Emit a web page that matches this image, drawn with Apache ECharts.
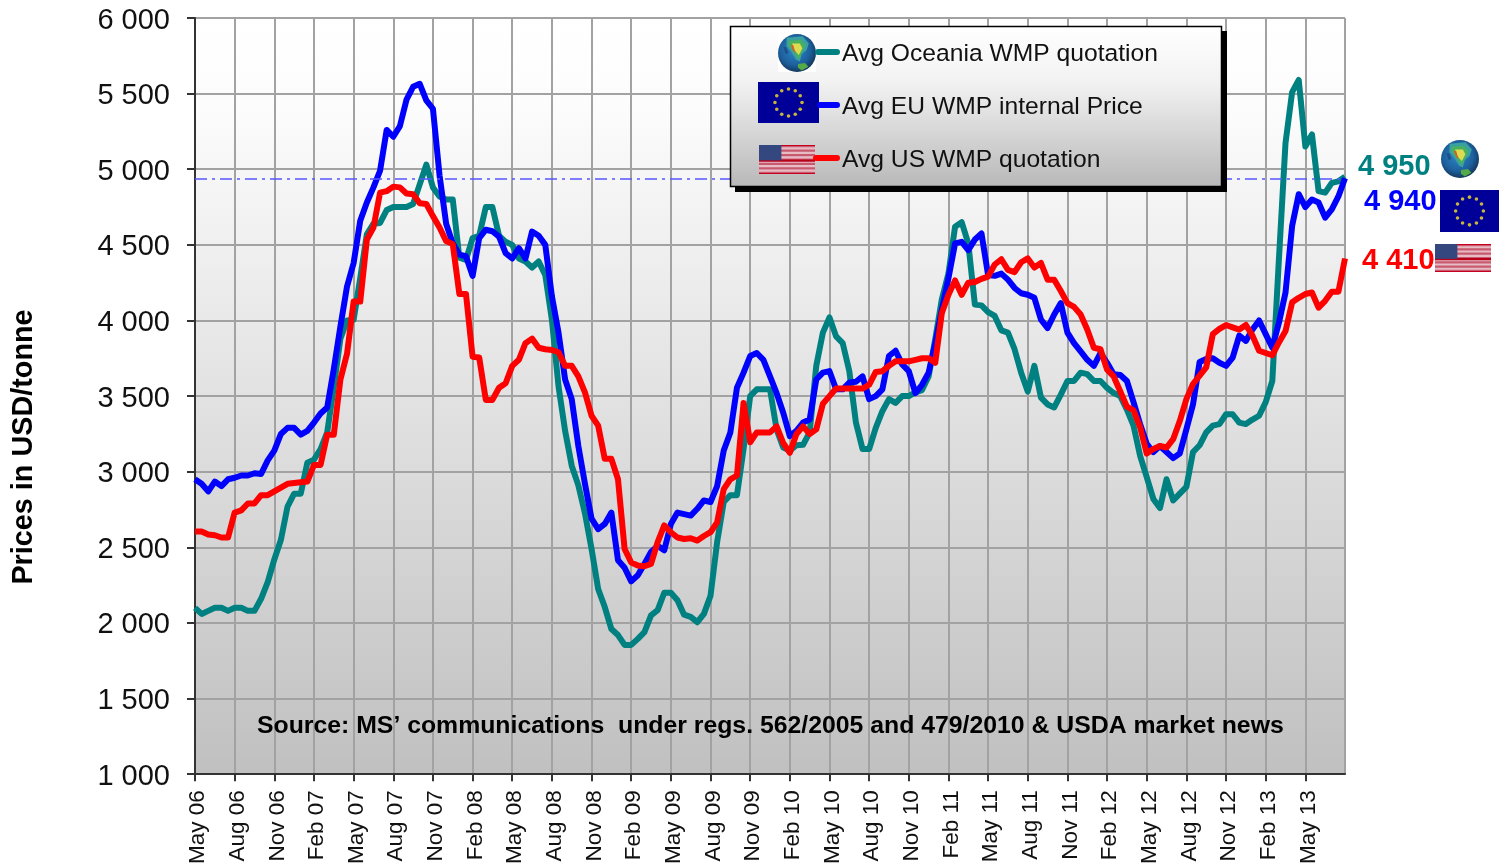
<!DOCTYPE html>
<html><head><meta charset="utf-8">
<style>html,body{margin:0;padding:0;background:#fff}#c{width:1499px;height:867px}</style>
<script src="https://cdn.jsdelivr.net/npm/echarts@6/dist/echarts.min.js"></script>
</head><body><div id="c"></div>
<script>
// half-monthly samples, May 06 to Aug 13
const tickLabels = ['May 06','Aug 06','Nov 06','Feb 07','May 07','Aug 07','Nov 07','Feb 08','May 08','Aug 08','Nov 08','Feb 09','May 09','Aug 09','Nov 09','Feb 10','May 10','Aug 10','Nov 10','Feb 11','May 11','Aug 11','Nov 11','Feb 12','May 12','Aug 12','Nov 12','Feb 13','May 13',''];
const yTicks = [1000,1500,2000,2500,3000,3500,4000,4500,5000,5500,6000];
const oceania = [
2100,2060,2080,2100,2100,2080,2100,2100,2080,2080,
2160,2270,2420,2550,2770,2855,2855,3060,3080,3150,
3260,3560,3880,4000,4005,4280,4570,4640,4645,4730,
4750,4750,4750,4770,4900,5030,4880,4820,4800,4800,
4415,4400,4545,4560,4750,4750,4560,4520,4500,4410,
4390,4350,4390,4300,4005,3565,3270,3040,2910,2725,
2490,2225,2105,1960,1920,1855,1855,1895,1940,2050,
2085,2200,2200,2150,2055,2040,2005,2060,2180,2535,
2800,2845,2845,3150,3500,3545,3545,3545,3280,3160,
3140,3175,3178,3260,3700,3920,4020,3895,3850,3665,
3325,3150,3150,3290,3400,3480,3455,3500,3500,3525,
3540,3630,3875,4140,4310,4620,4650,4510,4105,4100,
4055,4030,3935,3920,3810,3655,3530,3700,3490,3445,
3425,3510,3600,3600,3655,3645,3600,3600,3555,3520,
3500,3410,3305,3105,2965,2820,2760,2950,2810,2855,
2900,3130,3175,3260,3305,3315,3380,3380,3325,3315,
3345,3370,3460,3600,4405,5175,5510,5590,5150,5230,
4855,4845,4910,4920,4950];
const eu = [
2950,2920,2870,2935,2905,2950,2960,2975,2975,2990,
2985,3075,3140,3250,3290,3290,3245,3270,3325,3385,
3425,3680,3960,4225,4380,4660,4780,4880,4990,5260,
5215,5285,5460,5545,5565,5455,5400,4960,4640,4510,
4435,4425,4295,4545,4600,4590,4555,4445,4410,4478,
4410,4588,4560,4500,4160,3920,3610,3480,3170,2920,
2690,2620,2655,2730,2415,2365,2275,2315,2390,2470,
2510,2480,2655,2730,2720,2710,2755,2810,2800,2905,
3140,3260,3555,3655,3765,3785,3740,3630,3520,3390,
3235,3270,3325,3345,3610,3655,3665,3545,3545,3590,
3595,3630,3480,3500,3545,3765,3800,3710,3665,3520,
3575,3655,3850,4070,4280,4510,4520,4465,4535,4575,
4300,4295,4310,4270,4215,4180,4170,4150,4005,3950,
4040,4115,3920,3850,3795,3740,3700,3785,3720,3645,
3640,3600,3460,3315,3185,3130,3170,3130,3090,3120,
3280,3445,3725,3745,3750,3720,3700,3755,3900,3865,
3940,4000,3910,3820,3985,4185,4625,4835,4750,4800,
4780,4680,4735,4820,4940];
const us = [
2605,2605,2585,2580,2565,2565,2730,2745,2790,2790,
2845,2845,2870,2895,2920,2925,2930,2935,3045,3045,
3245,3245,3610,3780,4125,4125,4535,4615,4845,4855,
4885,4880,4840,4835,4775,4770,4690,4615,4525,4505,
4175,4175,3760,3755,3475,3475,3555,3585,3700,3740,
3850,3880,3820,3810,3805,3790,3700,3700,3630,3525,
3370,3305,3085,3085,2950,2490,2400,2380,2375,2390,
2535,2645,2600,2565,2555,2560,2545,2575,2600,2665,
2885,2950,2975,3455,3195,3260,3260,3260,3300,3190,
3125,3250,3300,3250,3280,3450,3500,3550,3550,3550,
3550,3550,3575,3660,3665,3700,3730,3730,3730,3740,
3750,3750,3720,4050,4170,4265,4170,4250,4255,4275,
4290,4370,4405,4335,4320,4385,4410,4350,4380,4270,
4270,4195,4115,4090,4040,3940,3820,3810,3675,3630,
3530,3430,3405,3295,3120,3150,3170,3160,3215,3335,
3480,3580,3635,3690,3910,3945,3970,3955,3940,3970,
3900,3800,3785,3770,3855,3930,4120,4150,4175,4185,
4085,4130,4190,4190,4410];
const refLevel = 4940;
const seriesNames = ['Avg Oceania WMP quotation','Avg EU WMP internal Price','Avg US WMP quotation'];
const seriesColors = ['#008080','#0000ff','#ff0000'];
const endLabels = ['4 950','4 940','4 410'];
const sourceText = 'Source: MS\u2019 communications  under regs. 562/2005 and 479/2010 & USDA market news';
const yTitle = 'Prices in USD/tonne';

const categories = oceania.map((_, i) => i % 6 === 0 ? tickLabels[i / 6] : '');
const FONT = '"Liberation Sans", Arial, sans-serif';
const fmtK = v => '{a|' + String(v).replace(/(\d)(\d{3})$/, '$1 $2') + '}';
const isTick = i => i % 6 === 0;
const isLabelTick = i => i % 6 === 0 && categories[i] !== '';
const chart = echarts.init(document.getElementById('c'), null, {renderer: 'canvas'});

function globe(cx, cy, r, z, bg) {
  const els = [];
  if (bg) els.push({type: 'rect', z, shape: {x: cx - r, y: cy - r, width: 2 * r, height: 2 * r}, style: {fill: '#fff'}});
  els.push({type: 'circle', z, shape: {cx, cy, r},
    style: {fill: new echarts.graphic.RadialGradient(0.45, 0.42, 0.62, [
      {offset: 0, color: '#2f86c8'}, {offset: .65, color: '#1c5f9c'}, {offset: 1, color: '#12304f'}])}});
  const P = (pts, fill) => els.push({type: 'polygon', z, shape: {points: pts.map(p => [cx + p[0] * r, cy + p[1] * r])}, style: {fill}});
  P([[-.55, -.8], [.3, -.88], [.62, -.5], [.5, -.15], [.25, .05], [.15, .45], [-.05, .35], [-.3, -.05], [-.55, -.35]], '#3aa0a0');
  P([[-.45, -.65], [.2, -.7], [.45, -.4], [.3, -.1], [.12, .3], [-.05, .15], [-.25, -.15], [-.45, -.4]], '#48b060');
  P([[-.25, -.5], [.15, -.5], [.28, -.25], [.1, .1], [-.05, -.05], [-.2, -.25]], '#dcdc50');
  P([[-.32, -.42], [-.2, -.42], [-.08, 0], [-.2, -.1]], '#d85a30');
  P([[-.72, -.3], [-.58, -.32], [-.45, 0], [-.6, .05]], '#1f4f88');
  P([[.05, .58], [.42, .52], [.6, .72], [.25, .92], [.05, .78]], '#55aa48');
  return els;
}
function euFlag(x, y, w, h, z) {
  const els = [{type: 'rect', z, shape: {x, y, width: w, height: h}, style: {fill: '#000099'}}];
  const r = h * .33;
  for (let k = 0; k < 12; k++) {
    const a = k * Math.PI / 6;
    els.push({type: 'circle', z, shape: {cx: x + w / 2 + r * Math.sin(a), cy: y + h / 2 - r * Math.cos(a), r: 1.8}, style: {fill: '#c9b53c'}});
  }
  return els;
}
function usFlag(x, y, w, h, z) {
  const els = [{type: 'rect', z, shape: {x, y, width: w, height: h}, style: {fill: '#e8bcc4'}}];
  for (let k = 0; k < 7; k++) {
    els.push({type: 'rect', z, shape: {x, y: y + k * 2 * h / 13, width: w, height: h / 13}, style: {fill: '#c85a70'}});
  }
  els.push({type: 'rect', z, shape: {x, y: y + h * .5, width: w, height: h * .08}, style: {fill: '#b80018'}});
  els.push({type: 'rect', z, shape: {x, y: y + h - 1, width: w, height: 1}, style: {fill: '#c80020'}});
  els.push({type: 'rect', z, shape: {x, y, width: w, height: 1}, style: {fill: '#c80020'}});
  els.push({type: 'rect', z, shape: {x, y, width: w * .4, height: h * .53}, style: {fill: '#34477f'}});
  return els;
}
const legendLine = (x1, y, col) => ({type: 'line', z: 22, shape: {x1, y1: y, x2: 837, y2: y},
  style: {stroke: col, lineWidth: 6, lineCap: 'round'}});
const legendText = (y, t) => ({type: 'text', z: 22, style: {x: 842, y, text: t, fill: '#111', font: '24.65px ' + FONT, textVerticalAlign: 'middle'}});
const endText = (x, y, t, col) => ({type: 'text', z: 22, style: {x, y, text: t, fill: col, font: 'bold 29px ' + FONT, textVerticalAlign: 'middle'}});

const graphics = [
  {type: 'rect', z: 20, shape: {x: 735, y: 31, width: 492, height: 161}, style: {fill: '#000'}},
  {type: 'rect', z: 21, shape: {x: 730.5, y: 26.5, width: 491, height: 160},
    style: {stroke: '#000', lineWidth: 1.5, fill: new echarts.graphic.LinearGradient(0, 0, 0, 1, [{offset: 0, color: '#ffffff'}, {offset: .35, color: '#f2f2f2'}, {offset: 1, color: '#b8b8b8'}])}},
  ...globe(797, 53, 19, 22, true),
  ...euFlag(758, 82, 61, 41, 22),
  ...usFlag(759, 145, 56, 29, 22),
  legendLine(818, 52, seriesColors[0]), legendLine(820, 105, seriesColors[1]), legendLine(816, 158, seriesColors[2]),
  legendText(54, seriesNames[0]), legendText(107, seriesNames[1]), legendText(160, seriesNames[2]),
  endText(1358, 167, endLabels[0], seriesColors[0]),
  endText(1364, 202, endLabels[1], seriesColors[1]),
  endText(1362, 261, endLabels[2], seriesColors[2]),
  ...globe(1460, 159, 19, 22, false),
  ...euFlag(1440, 190, 59, 42, 22),
  ...usFlag(1435, 244, 56, 28, 22),
  {type: 'text', z: 22, style: {x: 257, y: 726, text: sourceText, fill: '#000', font: 'bold 24.8px ' + FONT, textVerticalAlign: 'middle'}},
  {type: 'text', z: 22, rotation: Math.PI / 2, x: 24, y: 447,
    style: {x: 0, y: 0, text: yTitle, fill: '#000', font: 'bold 28.8px ' + FONT, textAlign: 'center', textVerticalAlign: 'middle'}}
];

chart.setOption({
  animation: false,
  grid: {left: 195, top: 18, width: 1150, height: 758, show: true, borderWidth: 0,
    backgroundColor: new echarts.graphic.LinearGradient(0, 0, 0, 1, [{offset: 0, color: '#ffffff'}, {offset: .12, color: '#fcfcfc'}, {offset: 1, color: '#c0c0c0'}])},
  xAxis: {type: 'category', data: categories, boundaryGap: false,
    axisLine: {lineStyle: {color: '#333', width: 2}},
    axisTick: {show: true, length: 7, interval: i => isLabelTick(i), lineStyle: {color: '#333', width: 2}},
    axisLabel: {interval: i => isTick(i), rotate: 90, margin: 16, hideOverlap: false,
      formatter: v => v ? '{a|' + v + '}' : '',
      rich: {a: {color: '#111', fontFamily: FONT, fontSize: 22.5, padding: [6, 0, 0, 0]}}},
    splitLine: {show: true, interval: i => isTick(i), lineStyle: {color: '#a2a2a2', width: 2}}},
  yAxis: {type: 'value', min: yTicks[0], max: yTicks[yTicks.length - 1], interval: 500,
    axisLine: {show: true, lineStyle: {color: '#333', width: 2}},
    axisTick: {show: true, length: 8, lineStyle: {color: '#333', width: 2}},
    axisLabel: {margin: 25, formatter: fmtK,
      rich: {a: {color: '#111', fontFamily: FONT, fontSize: 29, padding: [5, 0, 0, 0]}}},
    splitLine: {show: true, lineStyle: {color: '#a2a2a2', width: 2}}},
  series: [
    {name: seriesNames[0], type: 'line', data: oceania, symbol: 'none', z: 3, lineStyle: {color: seriesColors[0], width: 6, join: 'round'},
     markLine: {silent: true, symbol: 'none', label: {show: false}, data: [{yAxis: refLevel}],
       lineStyle: {color: '#5555ff', width: 1.5, type: [12, 5, 3, 5]}}},
    {name: seriesNames[1], type: 'line', data: eu, symbol: 'none', z: 4, lineStyle: {color: seriesColors[1], width: 6, join: 'round'}},
    {name: seriesNames[2], type: 'line', data: us, symbol: 'none', z: 5, lineStyle: {color: seriesColors[2], width: 6, join: 'round'}}
  ],
  graphic: {elements: graphics}
});
</script></body></html>
